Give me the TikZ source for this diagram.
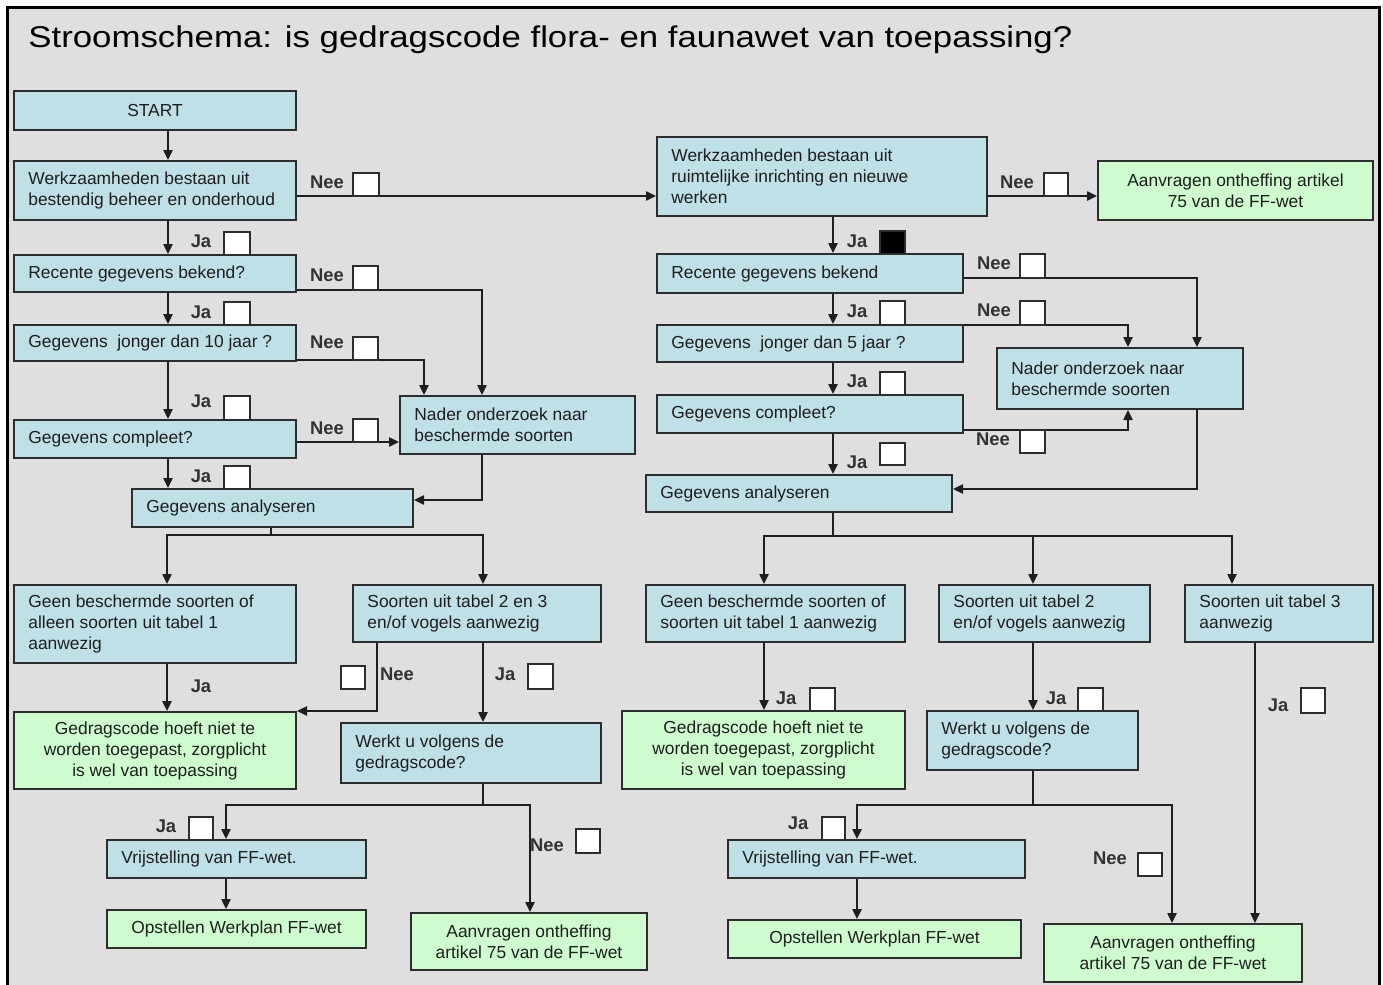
\documentclass[tikz,border=0pt]{standalone}
\usepackage{fontspec}
\usepackage{graphicx}
\setmainfont{Liberation Sans}
\usetikzlibrary{arrows.meta}
\definecolor{bgc}{RGB}{223,223,223}
\definecolor{boxblue}{RGB}{190,224,230}
\definecolor{boxgreen}{RGB}{206,252,206}
\definecolor{edgec}{RGB}{45,45,45}
\definecolor{linec}{RGB}{30,30,30}
\definecolor{textc}{RGB}{30,30,30}
\definecolor{labelc}{RGB}{50,50,50}
\newcommand\bxfont{\fontsize{8.7}{10.5}\selectfont}
\newcommand\lblfnt{\fontsize{9.2}{10}\selectfont\bfseries}
% centred box: style, name, x1, y1, x2, y2, text
\newcommand\mkbox[7]{%
  \pgfmathsetmacro\bw{(#5-#3)/2}%
  \pgfmathsetmacro\bh{(#6-#4)/2}%
  \node[#1, minimum width=\bw pt, minimum height=\bh pt] (#2) at ({(#3+#5)/2},{(#4+#6)/2}) {#7};}
% left-aligned box: name, x1, y1, x2, y2, text
\newcommand\mkboxl[6]{%
  \pgfmathsetmacro\bw{(#4-#2)/2}%
  \pgfmathsetmacro\bh{(#5-#3)/2}%
  \node[bl, minimum width=\bw pt, minimum height=\bh pt] (#1) at ({(#2+#4)/2},{(#3+#5)/2}) {};
  \node[btext, anchor=west] (#1-t) at ([xshift=7.5pt]#1.west) {#6};}
\newcommand\mkchk[6]{%
  \pgfmathsetmacro\bw{(#4-#2)/2}%
  \pgfmathsetmacro\bh{(#5-#3)/2}%
  \node[chk, fill=#6, minimum width=\bw pt, minimum height=\bh pt] (#1) at ({(#2+#4)/2},{(#3+#5)/2}) {};}
\tikzset{
  boxbase/.style={draw=edgec, line width=1pt, inner xsep=1pt, inner ysep=0pt, font=\bxfont, text=textc},
  bl/.style={boxbase, fill=boxblue},
  bc/.style={boxbase, fill=boxblue, align=center},
  gc/.style={boxbase, fill=boxgreen, align=center},
  btext/.style={font=\bxfont, text=textc, align=left, inner sep=0pt},
  chk/.style={draw=edgec, line width=0.8pt, inner sep=0pt},
  lbl/.style={font=\lblfnt, text=labelc, inner sep=0pt},
  ln/.style={draw=linec, line width=0.9pt},
  arr/.style={ln, -{Triangle[length=5pt,width=4.6pt]}},
}
\begin{document}
\begin{tikzpicture}[x=0.5pt,y=-0.5pt]
\useasboundingbox (0,0) rectangle (1383,985);
\fill[white] (0,0) rectangle (1383,985);
\fill[bgc] (7,7) rectangle (1379,985);
\draw[line width=1.5pt, black] (7,985) -- (7,7) -- (1379,7) -- (1379,985);

\node[anchor=base west, inner sep=0pt, font=\fontsize{15}{18}\selectfont, text=black] (title) at (28,47)
  {\scalebox{1.16}[1]{Stroomschema: is gedragscode flora- en faunawet van toepassing?}};

% ---------- left column boxes
\mkbox{bc}{start}{14}{91}{296}{130}{START}
\mkboxl{w1}{14}{161}{296}{220}{Werkzaamheden bestaan uit\\bestendig beheer en onderhoud}
\mkboxl{r1}{14}{255}{296}{292}{Recente gegevens bekend?}
\mkboxl{j1}{14}{325}{296}{361}{Gegevens~ jonger dan 10 jaar~?}
\mkboxl{c1}{14}{420}{296}{458}{Gegevens compleet?}
\mkboxl{n1}{400}{396}{635}{454}{Nader onderzoek naar\\beschermde soorten}
\mkboxl{a1}{132}{489}{413}{527}{Gegevens analyseren}
\mkboxl{g1}{14}{585}{296}{663}{Geen beschermde soorten of\\alleen soorten uit tabel 1\\aanwezig}
\mkboxl{s1}{353}{585}{601}{642}{Soorten uit tabel 2 en 3\\en/of vogels aanwezig}
\mkbox{gc}{gd1}{14}{712}{296}{789}{Gedragscode hoeft niet te\\worden toegepast, zorgplicht\\is wel van toepassing}
\mkboxl{wv1}{341}{723}{601}{783}{Werkt u volgens de\\gedragscode?}
\mkboxl{v1}{107}{840}{366}{878}{Vrijstelling van FF-wet.}
\mkbox{gc}{o1}{107}{910}{366}{948}{Opstellen Werkplan FF-wet}
\mkbox{gc}{aa1}{411}{913}{647}{970}{Aanvragen ontheffing\\artikel 75 van de FF-wet}

% ---------- right column boxes
\mkboxl{w2}{657}{137}{987}{216}{Werkzaamheden bestaan uit\\ruimtelijke inrichting en nieuwe\\werken}
\mkbox{gc}{aa0}{1098}{161}{1373}{220}{Aanvragen ontheffing artikel\\75 van de FF-wet}
\mkboxl{r2}{657}{254}{963}{293}{Recente gegevens bekend}
\mkboxl{j2}{657}{325}{963}{362}{Gegevens~ jonger dan 5 jaar~?}
\mkboxl{c2}{657}{395}{963}{433}{Gegevens compleet?}
\mkboxl{n2}{997}{348}{1243}{409}{Nader onderzoek naar\\beschermde soorten}
\mkboxl{a2}{646}{475}{952}{512}{Gegevens analyseren}
\mkboxl{g2}{646}{585}{905}{642}{Geen beschermde soorten of\\soorten uit tabel 1 aanwezig}
\mkboxl{s2}{939}{585}{1150}{642}{Soorten uit tabel 2\\en/of vogels aanwezig}
\mkboxl{t3}{1185}{585}{1373}{642}{Soorten uit tabel 3\\aanwezig}
\mkbox{gc}{gd2}{622}{711}{905}{789}{Gedragscode hoeft niet te\\worden toegepast, zorgplicht\\is wel van toepassing}
\mkboxl{wv2}{927}{711}{1138}{770}{Werkt u volgens de\\gedragscode?}
\mkboxl{v2}{728}{840}{1025}{878}{Vrijstelling van FF-wet.}
\mkbox{gc}{o2}{728}{920}{1021}{958}{Opstellen Werkplan FF-wet}
\mkbox{gc}{aa2}{1044}{924}{1302}{982}{Aanvragen ontheffing\\artikel 75 van de FF-wet}

% ---------- helper coordinates
\coordinate (xa) at (168,0);
\coordinate (xn1r) at (482,0);
\coordinate (xn1l) at (424,0);
\coordinate (y196) at (0,196);
\coordinate (y290) at (0,290);
\coordinate (y360) at (0,360);
\coordinate (y442) at (0,442);
\coordinate (y500) at (0,500);
\coordinate (ja) at (271,535);
\coordinate (xg1) at (167,0);
\coordinate (xs1) at (483,0);
\coordinate (xs1n) at (377,0);
\coordinate (jb) at (483,805);
\coordinate (xv1) at (226,0);
\coordinate (xaa1) at (530,0);
\coordinate (xb) at (833,0);
\coordinate (y278) at (0,278);
\coordinate (y325) at (0,325);
\coordinate (y430) at (0,430);
\coordinate (y489) at (0,489);
\coordinate (xn2a) at (1128,0);
\coordinate (xn2b) at (1197,0);
\coordinate (jc) at (833,536);
\coordinate (xg2) at (764,0);
\coordinate (xs2) at (1033,0);
\coordinate (xt3) at (1232,0);
\coordinate (xt3d) at (1255,0);
\coordinate (jd) at (1033,805);
\coordinate (xv2) at (857,0);
\coordinate (xaa2) at (1172,0);

% ---------- left connectors
\draw[arr] (start.south -| xa) -- (w1.north -| xa);
\draw[arr] (w1.south -| xa) -- (r1.north -| xa);
\draw[arr] (r1.south -| xa) -- (j1.north -| xa);
\draw[arr] (j1.south -| xa) -- (c1.north -| xa);
\draw[arr] (c1.south -| xa) -- (a1.north -| xa);
\draw[arr] (w1.east |- y196) -- (w2.west |- y196);
\draw[arr] (r1.east |- y290) -| (n1.north -| xn1r);
\draw[arr] (j1.east |- y360) -| (n1.north -| xn1l);
\draw[arr] (c1.east |- y442) -- (n1.west |- y442);
\draw[arr] (n1.south -| xn1r) |- (a1.east |- y500);
\draw[ln] (a1.south -| ja) -- (ja);
\draw[arr] (ja) -| (g1.north -| xg1);
\draw[arr] (ja) -| (s1.north -| xs1);
\draw[arr] (g1.south -| xg1) -- (gd1.north -| xg1);
\draw[arr] (s1.south -| xs1n) |- (gd1.north east);
\draw[arr] (s1.south -| xs1) -- (wv1.north -| xs1);
\draw[ln] (wv1.south -| jb) -- (jb);
\draw[arr] (jb) -| (v1.north -| xv1);
\draw[arr] (jb) -| (aa1.north -| xaa1);
\draw[arr] (v1.south -| xv1) -- (o1.north -| xv1);

% ---------- right connectors
\draw[arr] (w2.south -| xb) -- (r2.north -| xb);
\draw[arr] (w2.east |- y196) -- (aa0.west |- y196);
\draw[arr] (r2.south -| xb) -- (j2.north -| xb);
\draw[arr] (j2.south -| xb) -- (c2.north -| xb);
\draw[arr] (c2.south -| xb) -- (a2.north -| xb);
\draw[arr] (r2.east |- y278) -| (n2.north -| xn2b);
\draw[arr] (j2.east |- y325) -| (n2.north -| xn2a);
\draw[arr] (c2.east |- y430) -| (n2.south -| xn2a);
\draw[arr] (n2.south -| xn2b) |- (a2.east |- y489);
\draw[ln] (a2.south -| jc) -- (jc);
\draw[arr] (jc) -| (g2.north -| xg2);
\draw[arr] (jc) -| (s2.north -| xs2);
\draw[arr] (jc) -| (t3.north -| xt3);
\draw[arr] (g2.south -| xg2) -- (gd2.north -| xg2);
\draw[arr] (s2.south -| xs2) -- (wv2.north -| xs2);
\draw[arr] (t3.south -| xt3d) -- (aa2.north -| xt3d);
\draw[ln] (wv2.south -| jd) -- (jd);
\draw[arr] (jd) -| (v2.north -| xv2);
\draw[arr] (jd) -| (aa2.north -| xaa2);
\draw[arr] (v2.south -| xv2) -- (o2.north -| xv2);

% ---------- labels and check boxes (left)
\node[lbl] (lw1n) at (327,182) {Nee};  \mkchk{kw1n}{353}{173}{379}{196}{white}
\node[lbl] (lw1j) at (201,241) {Ja};   \mkchk{kw1j}{224}{232}{250}{255}{white}
\node[lbl] (lr1n) at (327,275) {Nee};  \mkchk{kr1n}{353}{266}{378}{290}{white}
\node[lbl] (lr1j) at (201,312) {Ja};   \mkchk{kr1j}{224}{302}{250}{325}{white}
\node[lbl] (lj1n) at (327,342) {Nee};  \mkchk{kj1n}{353}{337}{378}{360}{white}
\node[lbl] (lj1j) at (201,401) {Ja};   \mkchk{kj1j}{224}{396}{250}{420}{white}
\node[lbl] (lc1n) at (327,428) {Nee};  \mkchk{kc1n}{353}{419}{378}{442}{white}
\node[lbl] (lc1j) at (201,476) {Ja};   \mkchk{kc1j}{224}{466}{250}{489}{white}
\node[lbl] (lg1j) at (201,686) {Ja};
\node[lbl] (ls1n) at (397,674) {Nee};  \mkchk{ks1n}{341}{666}{365}{689}{white}
\node[lbl] (ls1j) at (505,674) {Ja};   \mkchk{ks1j}{528}{664}{553}{689}{white}
\node[lbl] (lwv1j) at (166,826) {Ja};  \mkchk{kwv1j}{189}{817}{213}{840}{white}
\node[lbl] (lwv1n) at (547,845) {Nee}; \mkchk{kwv1n}{576}{829}{600}{853}{white}

% ---------- labels and check boxes (right)
\node[lbl] (lw2n) at (1017,182) {Nee}; \mkchk{kw2n}{1044}{173}{1068}{196}{white}
\node[lbl] (lw2j) at (857,241) {Ja};   \mkchk{kw2j}{880}{231}{905}{254}{black}
\node[lbl] (lr2n) at (994,263) {Nee};  \mkchk{kr2n}{1020}{254}{1045}{278}{white}
\node[lbl] (lr2j) at (857,311) {Ja};   \mkchk{kr2j}{880}{301}{905}{325}{white}
\node[lbl] (lj2n) at (994,310) {Nee};  \mkchk{kj2n}{1020}{301}{1045}{325}{white}
\node[lbl] (lj2j) at (857,381) {Ja};   \mkchk{kj2j}{880}{372}{905}{395}{white}
\node[lbl] (lc2n) at (993,439) {Nee};  \mkchk{kc2n}{1020}{430}{1045}{453}{white}
\node[lbl] (lc2j) at (857,462) {Ja};   \mkchk{kc2j}{880}{443}{905}{465}{white}
\node[lbl] (lg2j) at (786,698) {Ja};   \mkchk{kg2j}{810}{688}{835}{711}{white}
\node[lbl] (ls2j) at (1056,698) {Ja};  \mkchk{ks2j}{1078}{688}{1103}{711}{white}
\node[lbl] (lt3j) at (1278,705) {Ja};  \mkchk{kt3j}{1301}{688}{1325}{713}{white}
\node[lbl] (lwv2j) at (798,823) {Ja};  \mkchk{kwv2j}{822}{817}{845}{840}{white}
\node[lbl] (lwv2n) at (1110,858) {Nee}; \mkchk{kwv2n}{1138}{853}{1162}{876}{white}
\end{tikzpicture}
\end{document}
